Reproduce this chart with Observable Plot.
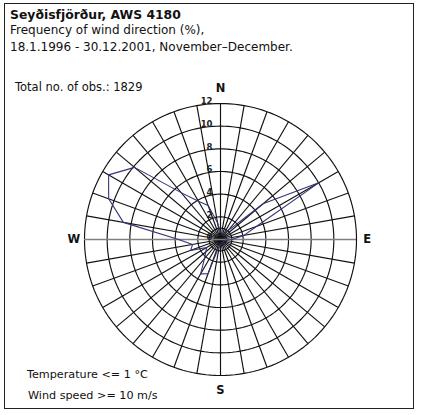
<!DOCTYPE html>
<html>
<head>
<meta charset="utf-8">
<script src="https://cdn.jsdelivr.net/npm/d3@7"></script>
<script src="https://cdn.jsdelivr.net/npm/@observablehq/plot@0.6"></script>
<style>
  html, body { margin: 0; padding: 0; background: #fff; }
  #wrap { position: relative; width: 429px; height: 415px; overflow: hidden; font-family: "DejaVu Sans", Verdana, sans-serif; }
  #frame { position: absolute; left: 4px; top: 3px; width: 410px; height: 406px; border: 1px solid #222; box-sizing: border-box; }
  .t { position: absolute; white-space: nowrap; color: #111; }
  #chart { position: absolute; left: 0; top: 0; }
</style>
</head>
<body>
<div id="wrap">
  <div id="chart"></div>
  <div id="frame"></div>
  <div class="t" style="left:10px; top:7px; font-size:12.4px; font-weight:bold;">Seyðisfjörður, AWS 4180</div>
  <div class="t" style="left:10px; top:23px; font-size:12px;">Frequency of wind direction (%),</div>
  <div class="t" style="left:10px; top:40px; font-size:12px;">18.1.1996 - 30.12.2001, November–December.</div>
  <div class="t" style="left:15px; top:80px; font-size:11.5px;">Total no. of obs.: 1829</div>
  <div class="t" style="left:27px; top:368px; font-size:11.2px;">Temperature &lt;= 1 °C</div>
  <div class="t" style="left:28px; top:389px; font-size:11.2px;">Wind speed &gt;= 10 m/s</div>
</div>
<script>
// Direction (degrees from north) and frequency (%)
const directions = [0,10,20,30,40,50,60,70,80,90,100,110,120,130,140,150,160,170,
                    180,190,200,210,220,230,240,250,260,270,280,290,300,310,320,330,340,350];
const frequency  = [0.6,0.5,0.5,0.6,1.0,4.9,10.0,3.4,2.1,1.0,0.4,0.3,0.3,0.3,0.3,0.3,0.3,0.4,
                    0.5,0.5,3.2,3.5,2.2,1.7,1.4,2.8,2.5,3.7,8.7,10.5,11.4,9.9,5.4,3.9,3.2,1.5];
const ringValues = [1,2,4,6,8,10,12];
const ringLabels = ["0","2","4","6","8","10","12"];
const ringLabelValues = [0,2,4,6,8,10,12];
const compass = [{label:"N", dir:0},{label:"E", dir:90},{label:"S", dir:180},{label:"W", dir:270}];

const W = 429, H = 415;
const cx = 220, cy = 239, k = 136/12;   // pixel geometry of the rose
const rMax = 12;

const rad = d => d * Math.PI / 180;
const px = (dir, v) => v * Math.sin(rad(dir));
const py = (dir, v) => v * Math.cos(rad(dir));

const rose = directions.map((d, i) => ({dir: d, v: frequency[i], x: px(d, frequency[i]), y: py(d, frequency[i])}));

const spokes = directions.map(d => ({x1: 0, y1: 0, x2: px(d, rMax), y2: py(d, rMax)}));

const ringPts = [];
for (const r of ringValues) {
  for (let a = 0; a <= 360; a += 2) ringPts.push({ring: r, x: px(a, r), y: py(a, r)});
}

const labelR = {0: 13.35, 90: 12.95, 180: 13.3, 270: 12.95};
const compassData = compass.map(c => ({label: c.label, x: px(c.dir, labelR[c.dir]), y: py(c.dir, labelR[c.dir])}));
const ringLabelData = ringLabelValues.map((v, i) => ({label: ringLabels[i], x: 0, y: v}));

const chart = Plot.plot({
  width: W, height: H,
  margin: 0,
  x: {domain: [-cx / k, (W - cx) / k], range: [0, W], axis: null},
  y: {domain: [-(H - cy) / k, cy / k], range: [H, 0], axis: null},
  style: {background: "transparent", fontFamily: "DejaVu Sans, Verdana, sans-serif"},
  marks: [
    Plot.line(ringPts, {x: "x", y: "y", z: "ring", stroke: "#111", strokeWidth: 1.15}),
    Plot.link(spokes, {x1: "x1", y1: "y1", x2: "x2", y2: "y2", stroke: "#111", strokeWidth: 1.15}),
    Plot.ruleY([0], {x1: -rMax, x2: rMax, stroke: "#808080", strokeWidth: 1.6}),
    Plot.text(ringLabelData, {x: "x", y: "y", text: "label", textAnchor: "end", dx: -8, dy: -2, fontSize: 8.5, fontWeight: "bold", fill: "#222"}),
    Plot.line(rose, {x: "x", y: "y", curve: "linear-closed", stroke: "#34347a", strokeWidth: 1.1}),
    Plot.text(compassData, {x: "x", y: "y", text: "label", fontSize: 11.5, fontWeight: "bold", fill: "#111"})
  ]
});
document.getElementById("chart").appendChild(chart);
</script>
</body>
</html>
